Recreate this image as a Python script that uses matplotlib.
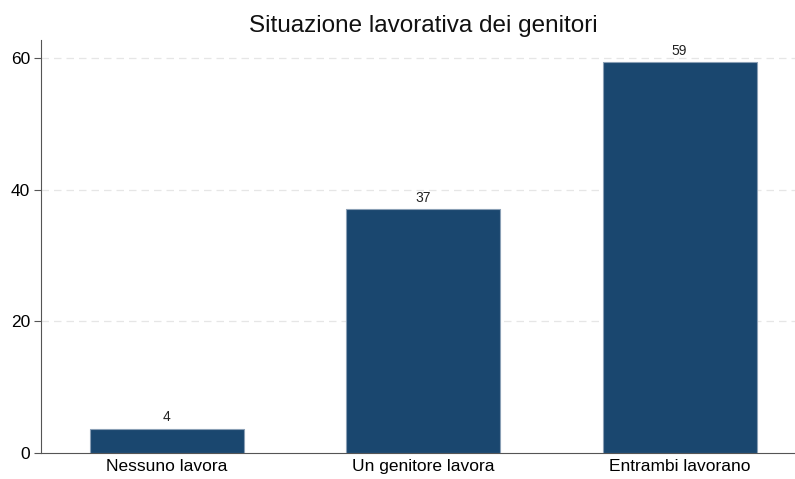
# Situazione lavorativa dei genitori - bar chart (Stata-like style)
import matplotlib
matplotlib.use("Agg")
import matplotlib.pyplot as plt

plt.rcParams['font.family'] = ['Liberation Sans', 'DejaVu Sans']

# === data ===
categories = ["Nessuno lavora", "Un genitore lavora", "Entrambi lavorano"]
values = [3.7, 37.0, 59.3]
yticks = [0, 20, 40, 60]

bar_color = "#1a476f"
edge_color = "#8a9fb5"

fig = plt.figure(figsize=(7.95, 4.79), dpi=100)
ax = fig.add_axes([41 / 795, 26 / 479, (795 - 41) / 795, (453 - 40) / 479])

x = list(range(len(categories)))
bars = ax.bar(x, values, width=0.6, color=bar_color, edgecolor=edge_color,
              linewidth=0.8, zorder=3)

# value labels above bars
for xi, v in zip(x, values):
    ax.text(xi, v + 1.1, f"{v:.0f}", ha="center", va="baseline",
            fontsize=10, color="#222222", zorder=4)

ax.set_xlim(-0.49, 2.45)
ax.set_ylim(0, 62.7)
ax.set_xticks(x)
ax.set_xticklabels(categories, fontsize=12.5)
ax.set_yticks(yticks)
ax.set_yticklabels([str(t) for t in yticks], fontsize=12.5)
ax.tick_params(axis="x", length=0, pad=4)
ax.tick_params(axis="y", length=5, color="#555555", pad=3)

# grid: light dashed lines, not at zero
for t in yticks[1:]:
    ax.axhline(t, color="#e6e6e6", linestyle=(0, (6, 4)), linewidth=0.9, zorder=1)

for side in ["top", "right"]:
    ax.spines[side].set_visible(False)
ax.spines["left"].set_color("#555555")
ax.spines["bottom"].set_color("#555555")

fig.text(423 / 795, 1 - 32 / 479, "Situazione lavorativa dei genitori",
         ha="center", va="baseline", fontsize=17.5, color="#111111")

fig.savefig("out.png", dpi=100)
